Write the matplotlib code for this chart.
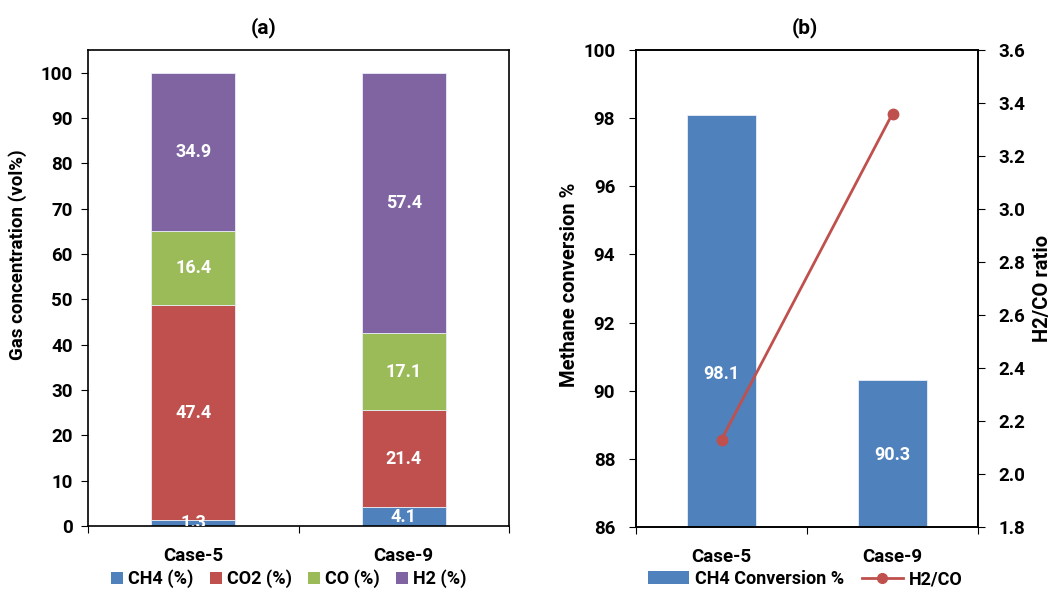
import numpy as np
import matplotlib.pyplot as plt
from matplotlib.lines import Line2D
from matplotlib.patches import Patch

plt.rcParams['font.family'] = ['Roboto', 'DejaVu Sans']
plt.rcParams['font.weight'] = 'bold'

# данні
cases = ['Case-5', 'Case-9']
ch4 = [1.3, 4.1]
co2 = [47.4, 21.4]
co = [16.4, 17.1]
h2 = [34.9, 57.4]
conversion = [98.1, 90.3]
h2_co = [2.13, 3.36]

colors = ['#4F81BD', '#C0504D', '#9BBB59', '#8064A2']
names = ['CH4 (%)', 'CO2 (%)', 'CO (%)', 'H2 (%)']

FS = 13.5

fig = plt.figure(figsize=(10.53, 5.92), dpi=100)
ax1 = fig.add_axes([88/1053, 1-526/592, 421/1053, 476/592])
ax2 = fig.add_axes([636/1053, 1-527/592, 342/1053, 477/592])

x = np.arange(len(cases))

# (a) stacked bars
bottom = np.zeros(len(cases))
for vals, c in zip([ch4, co2, co, h2], colors):
    ax1.bar(x, vals, 0.4, bottom=bottom, color=c, edgecolor='#e8eef7', linewidth=0.6)
    for xi, b, v in zip(x, bottom, vals):
        ax1.text(xi, b + v/2, f'{v}', ha='center', va='center', color='white',
                 fontsize=13, fontweight='bold', clip_on=True)
    bottom = bottom + np.array(vals)

ax1.set_xlim(-0.5, 1.5)
ax1.set_ylim(0, 105)
ax1.set_yticks(range(0, 101, 10))
ax1.set_xticks([-0.5, 0.5, 1.5])
ax1.set_xticklabels([])
ax1.set_xticks(x, minor=True)
ax1.set_xticklabels(cases, minor=True)
ax1.tick_params(axis='x', which='minor', length=0, pad=15)
ax1.tick_params(axis='x', which='major', length=5, direction='out')
ax1.tick_params(axis='y', length=5, direction='out', pad=6)
ax1.tick_params(which='both', labelsize=FS)
ax1.set_ylabel('Gas concentration (vol%)', fontsize=13.5, fontweight='bold')
ax1.yaxis.set_label_coords((27-88)/421, (526-255)/476)
for s in ax1.spines.values():
    s.set_linewidth(1.2)
fig.text(264/1053, 1-28/592, '(a)', ha='center', va='center', fontsize=15, fontweight='bold')

handles = [Patch(facecolor=c) for c in colors]
fig.legend(handles, names, loc='center', bbox_to_anchor=(289/1053, 1-579/592),
           ncol=4, frameon=False, fontsize=13, handlelength=0.65, handleheight=0.65,
           handletextpad=0.3, columnspacing=0.9, borderpad=0)

# (b) conversion + ratio
ax2.bar(x, conversion, 0.4, color='#4F81BD', edgecolor='#e8eef7', linewidth=0.6)
label_y = [90.5, 88.1]
for xi, v, ly in zip(x, conversion, label_y):
    ax2.text(xi, ly, f'{v}', ha='center', va='center',
             color='white', fontsize=13, fontweight='bold')
ax2.set_xlim(-0.5, 1.5)
ax2.set_ylim(86, 100)
ax2.set_yticks(range(86, 101, 2))
ax2.set_xticks([-0.5, 0.5, 1.5])
ax2.set_xticklabels([])
ax2.set_xticks(x, minor=True)
ax2.set_xticklabels(cases, minor=True)
ax2.tick_params(axis='x', which='minor', length=0, pad=15)
ax2.tick_params(axis='x', which='major', length=5, direction='out')
ax2.tick_params(axis='y', length=5, direction='out', pad=10)
ax2.tick_params(which='both', labelsize=FS)
ax2.set_ylabel('Methane conversion %', fontsize=14.5, fontweight='bold')
ax2.yaxis.set_label_coords((579-636)/342, (527-285)/477)
fig.text(805/1053, 1-28/592, '(b)', ha='center', va='center', fontsize=15, fontweight='bold')

ax3 = ax2.twinx()
ax3.plot(x, h2_co, color='#C0504D', linewidth=2, marker='o', markersize=7.5)
ax3.set_ylim(1.8, 3.6)
ticks = np.arange(1.8, 3.61, 0.2)
ax3.set_yticks(ticks)
ax3.set_yticklabels([f'{t:.1f}' for t in ticks])
ax3.tick_params(axis='y', length=5, direction='out', pad=10, labelsize=FS)
ax3.set_ylabel('H2/CO ratio', fontsize=14.5, fontweight='bold', rotation=90)
ax3.yaxis.set_label_coords((1033-636)/342, (527-288)/477)
for s in list(ax2.spines.values()) + list(ax3.spines.values()):
    s.set_linewidth(1.2)

h_bar = Patch(facecolor='#4F81BD')
h_line = Line2D([], [], color='#C0504D', linewidth=2, marker='o', markersize=7)
fig.legend([h_bar, h_line], ['CH4 Conversion %', 'H2/CO'], loc='center',
           bbox_to_anchor=(805/1053, 1-579/592), ncol=2, frameon=False,
           fontsize=13, handlelength=2.3, handleheight=0.75, handletextpad=0.3,
           columnspacing=1.0, borderpad=0)

fig.savefig('out.png', dpi=100)
